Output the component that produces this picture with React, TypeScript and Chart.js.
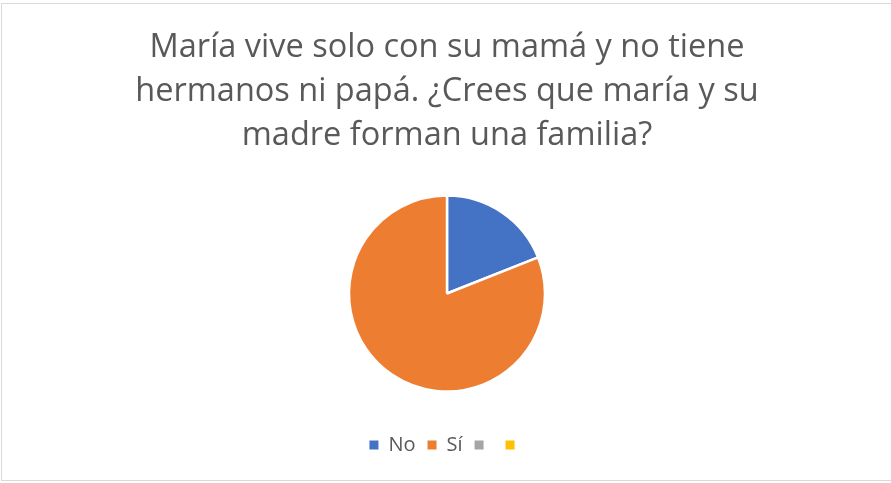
import React, { useEffect, useRef } from "react";
import { Chart, registerables } from "chart.js";

Chart.register(...registerables);

const titleLines = [
  "María vive solo con su mamá y no tiene",
  "hermanos ni papá. ¿Crees que maría y su",
  "madre forman una familia?",
];
const categories = ["No", "Sí", "", ""];
const values = [19, 81, 0, 0];
const colors = ["#4472C4", "#ED7D31", "#A5A5A5", "#FFC000"];

export default function App() {
  const ref = useRef<HTMLCanvasElement | null>(null);
  useEffect(() => {
    document.body.style.margin = "0";
    const ctx = ref.current!;
    const chart = new Chart(ctx, {
      type: "pie",
      data: {
        labels: categories,
        datasets: [
          {
            data: values,
            backgroundColor: colors,
            borderColor: "#ffffff",
            borderWidth: 2.5,
            radius: 98,
          },
        ],
      },
      options: {
        responsive: false,
        animation: false,
        devicePixelRatio: 1,
        layout: { padding: { top: 26, bottom: 18, left: 3, right: 0 } },
        plugins: {
          tooltip: { enabled: false },
          title: {
            display: true,
            text: titleLines,
            color: "#595959",
            font: { family: "Open Sans", size: 32.5, weight: "normal", lineHeight: 44 / 32.5 },
            padding: { top: 0, bottom: 6 },
          },
          legend: {
            display: true,
            position: "bottom",
            labels: {
              color: "#595959",
              font: { family: "Open Sans", size: 20 },
              boxWidth: 9,
              boxHeight: 9,
              padding: 12,
              generateLabels: (c: any) => {
                const items = Chart.overrides.pie.plugins.legend.labels.generateLabels(c);
                return items.map((it: any) => ({ ...it, lineWidth: 0, strokeStyle: it.fillStyle }));
              },
            },
          },
        },
      },
    });
    return () => chart.destroy();
  }, []);
  return (
    <div style={{ position: "relative", width: 891, height: 483, background: "#fff" }}>
      <div
        style={{
          position: "absolute",
          left: 1,
          top: 3,
          width: 900,
          height: 478,
          border: "1px solid #d9d9d9",
          boxSizing: "border-box",
        }}
      />
      <canvas
        ref={ref}
        width={891}
        height={483}
        style={{ position: "absolute", left: 0, top: 0 }}
      />
    </div>
  );
}
